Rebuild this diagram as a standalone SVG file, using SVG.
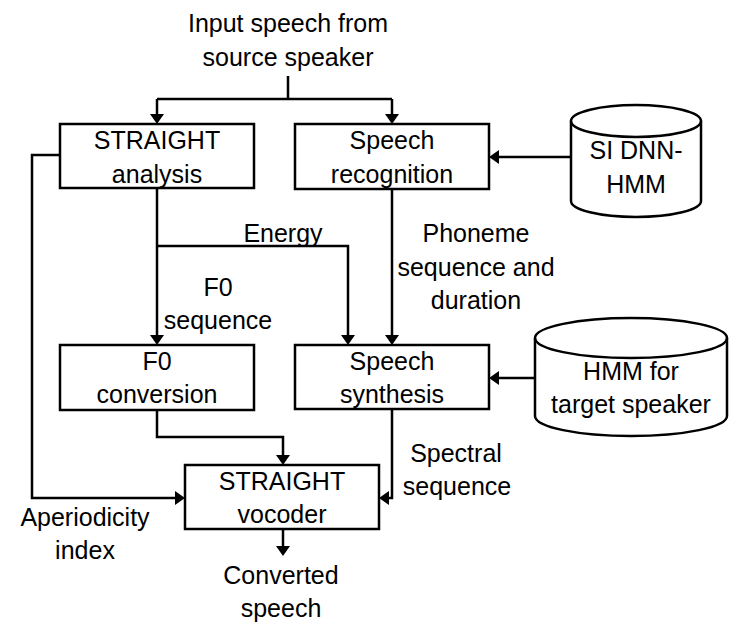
<svg xmlns="http://www.w3.org/2000/svg" width="729" height="623" viewBox="0 0 729 623">
<style>
text{font-family:"Liberation Sans",Arial,sans-serif;font-size:25px;fill:#000;text-anchor:middle}
.box{fill:#fff;stroke:#000;stroke-width:2.5}
.cyl{fill:#fff;stroke:#000;stroke-width:2.5}
.c{fill:none;stroke:#000;stroke-width:2.5}
</style>
<defs>
<marker id="ah" viewBox="0 0 10 14" refX="2" refY="7" markerWidth="10" markerHeight="14" markerUnits="userSpaceOnUse" orient="auto">
<path d="M0,0 L10,7 L0,14 z" fill="#000"/>
</marker>
</defs>
<rect width="729" height="623" fill="#fff"/>
<g id="connectors">
<path class="c" d="M288,76 V99 M157,99 H392"/>
<path class="c" d="M157,99 V116" marker-end="url(#ah)"/>
<path class="c" d="M392,99 V116" marker-end="url(#ah)"/>
<path class="c" d="M571,157 H497" marker-end="url(#ah)"/>
<path class="c" d="M157,188 V337" marker-end="url(#ah)"/>
<path class="c" d="M157,246 H348 V337" marker-end="url(#ah)"/>
<path class="c" d="M392,189 V337" marker-end="url(#ah)"/>
<path class="c" d="M535,378 H497" marker-end="url(#ah)"/>
<path class="c" d="M60,155 H32 V498 H177" marker-end="url(#ah)"/>
<path class="c" d="M157,410 V437 H283 V457" marker-end="url(#ah)"/>
<path class="c" d="M392,409 V498 H387" marker-end="url(#ah)"/>
<path class="c" d="M283,529 V548" marker-end="url(#ah)"/>
</g>
<g id="input">
<text x="288" y="32">Input speech from</text>
<text x="288" y="66">source speaker</text>
</g>
<g id="straight-analysis">
<rect class="box" x="60" y="124" width="194" height="64"/>
<text x="157" y="149">STRAIGHT</text>
<text x="157" y="183">analysis</text>
</g>
<g id="speech-recognition">
<rect class="box" x="295" y="124" width="194" height="65"/>
<text x="392" y="149">Speech</text>
<text x="392" y="183">recognition</text>
</g>
<g id="si-dnn-hmm">
<path class="cyl" d="M571,121 V201 A65,16 0 0 0 701,201 V121 A65,16 0 0 0 571,121 Z"/>
<path class="c" d="M571,121 A65,16 0 0 0 701,121"/>
<text x="636" y="159">SI DNN-</text>
<text x="636" y="193">HMM</text>
</g>
<g id="f0-conversion">
<rect class="box" x="60" y="345" width="194" height="65"/>
<text x="157" y="370">F0</text>
<text x="157" y="403">conversion</text>
</g>
<g id="speech-synthesis">
<rect class="box" x="295" y="345" width="194" height="64"/>
<text x="392" y="370">Speech</text>
<text x="392" y="403">synthesis</text>
</g>
<g id="hmm-target">
<path class="cyl" d="M535,338 V416 A96,20 0 0 0 727,416 V338 A96,20 0 0 0 535,338 Z"/>
<path class="c" d="M535,338 A96,20 0 0 0 727,338"/>
<text x="631" y="380">HMM for</text>
<text x="631" y="413">target speaker</text>
</g>
<g id="straight-vocoder">
<rect class="box" x="185" y="465" width="194" height="64"/>
<text x="282" y="490">STRAIGHT</text>
<text x="282" y="523">vocoder</text>
</g>
<g id="labels">
<text x="283" y="242">Energy</text>
<text x="218" y="296">F0</text>
<text x="218" y="329">sequence</text>
<text x="476" y="242">Phoneme</text>
<text x="476" y="276">sequence and</text>
<text x="476" y="309">duration</text>
<text x="456" y="462">Spectral</text>
<text x="457" y="495">sequence</text>
<text x="85" y="526">Aperiodicity</text>
<text x="85" y="559">index</text>
<text x="281" y="584">Converted</text>
<text x="281" y="617">speech</text>
</g>
</svg>
